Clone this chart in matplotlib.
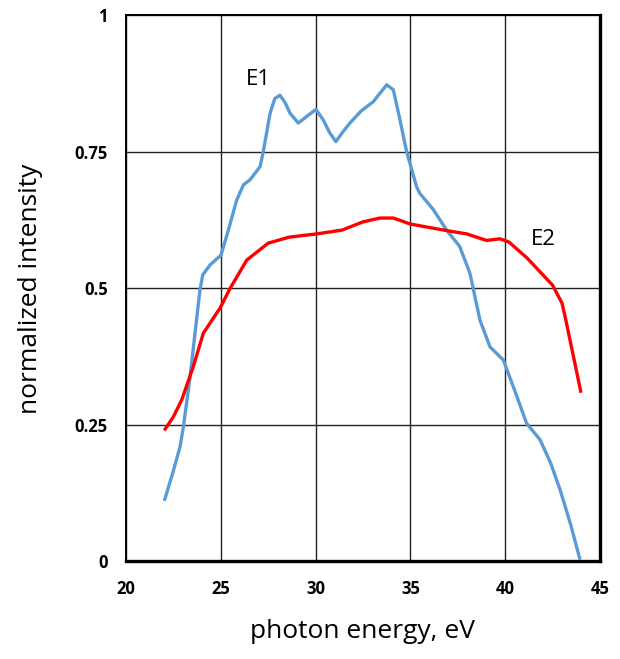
import numpy as np
import matplotlib
matplotlib.use('Agg')
import matplotlib.pyplot as plt

plt.rcParams['font.family'] = ['Open Sans', 'DejaVu Sans']

# E1 spectrum (blue)
e1_x = [22.02, 22.45, 22.85, 23.03, 23.38, 23.64, 23.9, 24.05, 24.43, 25.01, 25.4,
        25.84, 26.2, 26.54, 27.07, 27.24, 27.6, 27.85, 28.12, 28.4, 28.65, 29.09,
        29.53, 30.02, 30.4, 30.75, 31.07, 31.4, 31.81, 32.4, 33.04, 33.45, 33.75,
        34.1, 34.45, 34.8, 35.33, 35.5, 36.2, 36.91, 37.6, 38.14, 38.67, 39.2,
        39.9, 40.43, 41.13, 41.84, 42.4, 42.9, 43.45, 43.95]
e1_y = [0.111, 0.16, 0.21, 0.247, 0.338, 0.418, 0.497, 0.525, 0.543, 0.561, 0.607,
        0.662, 0.69, 0.699, 0.723, 0.75, 0.821, 0.848, 0.854, 0.84, 0.821, 0.803,
        0.815, 0.828, 0.809, 0.785, 0.769, 0.785, 0.803, 0.825, 0.842, 0.86, 0.873,
        0.864, 0.809, 0.751, 0.686, 0.674, 0.645, 0.607, 0.577, 0.528, 0.442, 0.393,
        0.369, 0.32, 0.253, 0.223, 0.18, 0.131, 0.068, 0.003]

# E2 spectrum (red)
e2_x = [22.02, 22.5, 22.94, 23.55, 24.08, 24.96, 25.49, 26.37, 27.5, 28.6, 30.07,
        31.4, 32.5, 33.4, 34.1, 35.0, 36.91, 37.97, 39.02, 39.73, 40.2, 41.15,
        42.5, 43.0, 43.2, 44.0]
e2_y = [0.24, 0.265, 0.296, 0.357, 0.418, 0.464, 0.50, 0.552, 0.583, 0.594, 0.60,
        0.607, 0.622, 0.629, 0.629, 0.618, 0.606, 0.60, 0.588, 0.591, 0.585, 0.556,
        0.506, 0.473, 0.442, 0.309]

x_ticks = [20, 25, 30, 35, 40, 45]
y_ticks = [0, 0.25, 0.5, 0.75, 1]
y_tick_labels = ['0', '0.25', '0.5', '0.75', '1']

fig = plt.figure(figsize=(6.2, 6.59), dpi=100)
ax = fig.add_axes([0.2032, 0.148, 0.7645, 0.8285])

ax.plot(e1_x, e1_y, color='#5B9BD5', linewidth=2.4, solid_joinstyle='round',
        solid_capstyle='butt', zorder=3)
ax.plot(e2_x, e2_y, color='#FF0000', linewidth=2.4, solid_joinstyle='round',
        solid_capstyle='butt', zorder=3)

ax.text(26.96, 0.882, 'E1', fontsize=16, ha='center', va='center')
ax.text(41.99, 0.589, 'E2', fontsize=16, ha='center', va='center')

ax.set_xlim(20, 45)
ax.set_ylim(0, 1)
ax.set_xticks(x_ticks)
ax.set_yticks(y_ticks)
ax.set_yticklabels(y_tick_labels)
ax.tick_params(length=0, labelsize=12, pad=13)
for lab in ax.get_xticklabels() + ax.get_yticklabels():
    lab.set_fontweight('bold')
ax.grid(True, color='#222222', linewidth=1.0)
ax.set_axisbelow(True)

for s in ['left', 'top']:
    ax.spines[s].set_linewidth(1.4)
for s in ['bottom', 'right']:
    ax.spines[s].set_linewidth(2.4)

ax.set_xlabel('photon energy, eV', fontsize=19)
ax.set_ylabel('normalized intensity', fontsize=19)
ax.xaxis.set_label_coords(0.5, -0.129)
ax.yaxis.set_label_coords(-0.2025, 0.5)
ax.xaxis.label.set_va('center')
ax.yaxis.label.set_va('center')

fig.savefig('out.png', dpi=100)
